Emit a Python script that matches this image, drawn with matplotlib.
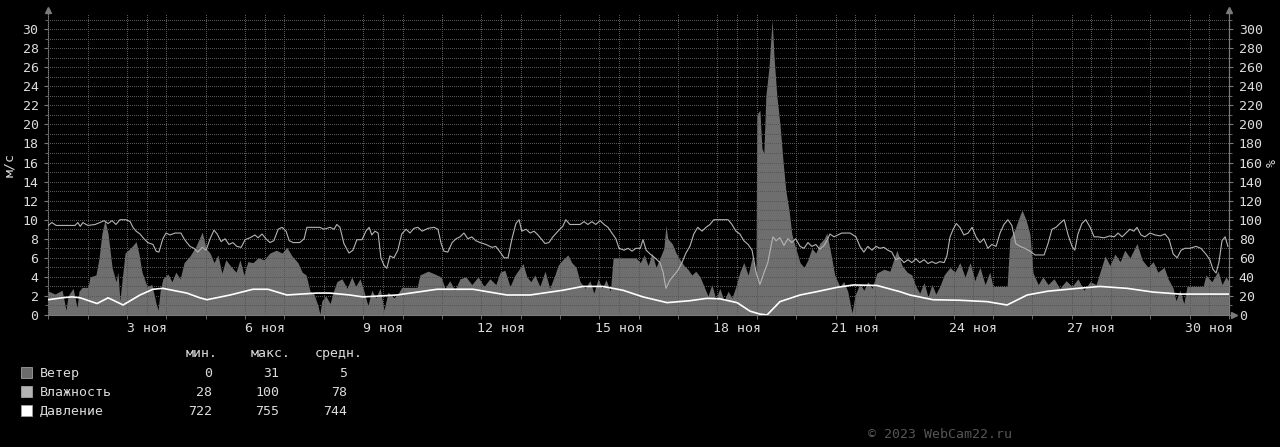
import numpy as np
import matplotlib
matplotlib.use("Agg")
import matplotlib.pyplot as plt
from matplotlib.patches import Rectangle
from matplotlib.ticker import MultipleLocator, FixedLocator, NullFormatter

plt.rcParams['font.family'] = ['DejaVu Sans Mono']

# time axis: days since 1 Nov 00:00
wind_days = [0.00, 0.17, 0.35, 0.45, 0.50, 0.63, 0.73, 0.78, 0.86, 1.01, 1.06, 1.21, 1.29, 1.36, 1.44,
             1.52, 1.62, 1.72, 1.77, 1.82, 1.87, 1.95, 2.08, 2.15, 2.23, 2.30, 2.38, 2.51, 2.63, 2.74,
             2.79, 2.84, 2.91, 3.04, 3.14, 3.24, 3.35, 3.45, 3.60, 3.75, 3.91, 4.01, 4.11, 4.21, 4.31,
             4.41, 4.51, 4.62, 4.77, 4.87, 4.97, 5.07, 5.20, 5.33, 5.48, 5.63, 5.79, 5.94, 6.06, 6.19,
             6.34, 6.45, 6.55, 6.65, 6.75, 6.85, 6.90, 6.95, 7.05, 7.16, 7.23, 7.33, 7.46, 7.59, 7.71,
             7.81, 7.92, 8.02, 8.12, 8.22, 8.32, 8.43, 8.53, 8.63, 8.78, 8.88, 8.98, 9.37, 9.44, 9.65,
             9.82, 9.98, 10.08, 10.20, 10.33, 10.46, 10.61, 10.76, 10.92, 11.07, 11.22, 11.37, 11.48,
             11.60, 11.73, 11.86, 11.96, 12.06, 12.16, 12.26, 12.36, 12.49, 12.62, 12.74, 12.87, 12.95,
             13.07, 13.20, 13.30, 13.41, 13.51, 13.64, 13.76, 13.86, 13.97, 14.07, 14.17, 14.28, 14.35,
             14.78, 14.93, 15.04, 15.14, 15.24, 15.34, 15.44, 15.54, 15.64, 15.69, 15.74, 15.85, 15.95,
             16.05, 16.15, 16.25, 16.35, 16.45, 16.56, 16.66, 16.76, 16.86, 16.96, 17.06, 17.17, 17.27,
             17.37, 17.47, 17.57, 17.67, 17.78, 17.88, 17.98, 18.00, 18.08, 18.13, 18.18, 18.23, 18.31,
             18.39, 18.44, 18.51, 18.59, 18.67, 18.74, 18.82, 18.89, 18.99, 19.10, 19.20, 19.30, 19.40,
             19.50, 19.60, 19.71, 19.78, 19.88, 19.98, 20.11, 20.21, 20.31, 20.42, 20.49, 20.62, 20.72,
             20.82, 20.93, 21.05, 21.23, 21.38, 21.56, 21.69, 21.82, 21.94, 22.04, 22.14, 22.25, 22.35,
             22.45, 22.55, 22.65, 22.76, 22.91, 23.03, 23.16, 23.29, 23.42, 23.54, 23.67, 23.80, 23.92,
             24.00, 24.36, 24.43, 24.56, 24.69, 24.74, 24.84, 24.94, 25.02, 25.15, 25.27, 25.40, 25.55,
             25.70, 25.86, 26.01, 26.16, 26.31, 26.47, 26.62, 26.72, 26.85, 26.97, 27.10, 27.23, 27.35,
             27.48, 27.66, 27.79, 27.94, 28.07, 28.19, 28.35, 28.45, 28.58, 28.65, 28.75, 28.85, 28.93,
             29.34, 29.41, 29.56, 29.72, 29.82, 29.92, 30.00]
wind_ms = [2.5, 2.2, 2.6, 0.5, 2.0, 2.8, 0.8, 2.5, 2.9, 2.9, 4.0, 4.2, 6.0, 8.5, 10.0,
           8.5, 5.0, 3.5, 4.5, 1.5, 3.5, 6.5, 7.0, 7.3, 7.7, 6.5, 4.5, 3.0, 3.2, 1.2,
           0.5, 2.5, 3.8, 4.3, 3.5, 4.5, 3.8, 5.5, 6.2, 7.2, 8.7, 7.0, 6.5, 5.5, 6.3,
           4.4, 5.8, 5.2, 4.5, 5.8, 4.2, 5.6, 5.5, 6.0, 5.8, 6.5, 6.8, 6.5, 7.1, 6.2,
           5.5, 4.5, 4.2, 2.5, 2.2, 1.0, 0.1, 1.5, 2.0, 1.2, 2.3, 3.5, 3.8, 2.8, 4.0,
           3.0, 3.8, 2.5, 1.0, 2.6, 1.8, 2.8, 0.5, 2.4, 1.8, 2.2, 2.9, 2.9, 4.2, 4.6,
           4.3, 4.0, 2.8, 3.6, 2.6, 3.8, 4.0, 3.2, 4.0, 3.0, 3.8, 3.2, 4.5,
           4.7, 3.0, 4.2, 4.8, 5.4, 4.0, 3.5, 4.2, 3.0, 4.6, 2.8, 4.2, 5.2,
           5.8, 6.3, 5.5, 5.0, 3.5, 2.8, 3.6, 2.3, 3.8, 2.8, 3.7, 2.5, 6.0,
           6.0, 6.0, 5.5, 6.3, 5.2, 6.5, 5.0, 6.0, 7.0, 9.4, 8.0, 7.5, 6.5,
           5.8, 5.2, 4.8, 4.2, 4.6, 4.0, 3.0, 2.0, 3.2, 1.6, 2.8, 1.5, 2.5,
           1.8, 3.0, 4.5, 5.5, 4.2, 6.0, 4.5, 21.0, 21.5, 17.5, 17.0, 23.0, 26.0,
           31.0, 27.0, 23.0, 20.0, 16.0, 13.0, 11.0, 8.5, 7.0, 5.5, 5.0, 5.8, 7.0,
           6.5, 7.5, 8.0, 8.6, 6.5, 4.2, 3.0, 3.5, 2.5, 0.2, 2.0, 3.3, 2.6,
           3.5, 2.8, 4.4, 4.8, 4.6, 6.8, 5.2, 4.5, 4.2, 3.0, 2.3, 3.4, 1.9,
           3.2, 2.2, 3.0, 4.2, 5.0, 4.5, 5.5, 4.0, 5.5, 3.6, 5.0, 3.2, 4.5,
           3.0, 3.0, 8.0, 9.0, 10.5, 11.0, 10.0, 8.5, 4.4, 3.2, 4.0, 3.2, 3.8,
           2.8, 3.6, 3.0, 3.8, 2.6, 3.5, 3.2, 4.5, 6.2, 5.2, 6.4, 5.6, 6.8,
           6.0, 7.5, 5.8, 5.0, 5.6, 4.5, 5.0, 3.8, 2.8, 1.5, 2.6, 1.2, 3.0,
           3.0, 4.2, 3.5, 4.6, 3.2, 4.0, 3.5]

hum_days = [0.00, 0.09, 0.20, 0.68, 0.75, 0.81, 0.88, 0.96, 1.01, 1.19, 1.31, 1.42, 1.52, 1.62, 1.72,
            1.82, 1.97, 2.08, 2.15, 2.23, 2.33, 2.43, 2.53, 2.66, 2.74, 2.81, 2.91, 2.99, 3.09, 3.22,
            3.37, 3.45, 3.52, 3.60, 3.70, 3.80, 3.91, 4.01, 4.11, 4.21, 4.29, 4.39, 4.49, 4.59, 4.69,
            4.79, 4.90, 5.00, 5.12, 5.25, 5.33, 5.43, 5.53, 5.63, 5.73, 5.84, 5.94, 6.04, 6.12, 6.22,
            6.39, 6.50, 6.57, 6.90, 7.00, 7.16, 7.26, 7.33, 7.41, 7.51, 7.64, 7.74, 7.84, 7.97, 8.07,
            8.15, 8.22, 8.30, 8.38, 8.45, 8.53, 8.60, 8.68, 8.78, 8.88, 8.98, 9.09, 9.19, 9.29, 9.39,
            9.50, 9.65, 9.80, 9.90, 9.98, 10.05, 10.15, 10.26, 10.36, 10.46, 10.56, 10.66, 10.76, 10.86,
            10.97, 11.12, 11.27, 11.37, 11.48, 11.58, 11.68, 11.78, 11.88, 11.96, 12.03, 12.14, 12.24,
            12.34, 12.44, 12.52, 12.62, 12.72, 12.82, 12.95, 13.07, 13.15, 13.25, 13.51, 13.61, 13.71,
            13.81, 13.91, 14.02, 14.12, 14.22, 14.32, 14.42, 14.50, 14.63, 14.73, 14.83, 14.93, 15.04,
            15.11, 15.19, 15.29, 15.41, 15.54, 15.62, 15.69, 15.80, 15.90, 16.00, 16.10, 16.20, 16.30,
            16.40, 16.50, 16.61, 16.71, 16.81, 16.91, 17.27, 17.37, 17.47, 17.57, 17.67, 17.78, 17.88,
            17.98, 18.08, 18.18, 18.28, 18.36, 18.41, 18.49, 18.59, 18.69, 18.79, 18.89, 18.99, 19.10,
            19.20, 19.30, 19.40, 19.50, 19.60, 19.71, 19.78, 19.86, 19.96, 20.06, 20.16, 20.37, 20.52,
            20.62, 20.72, 20.82, 20.93, 21.03, 21.13, 21.23, 21.33, 21.43, 21.53, 21.63, 21.74, 21.84,
            21.94, 22.04, 22.14, 22.25, 22.35, 22.45, 22.55, 22.65, 22.76, 22.83, 22.91, 22.99, 23.07,
            23.16, 23.26, 23.37, 23.47, 23.57, 23.67, 23.77, 23.87, 23.97, 24.08, 24.18, 24.28, 24.38,
            24.48, 24.58, 24.69, 24.81, 24.94, 25.07, 25.30, 25.40, 25.50, 25.60, 25.70, 25.81, 25.91,
            26.01, 26.08, 26.16, 26.26, 26.36, 26.47, 26.57, 26.67, 26.82, 26.97, 27.08, 27.18, 27.28,
            27.38, 27.48, 27.58, 27.66, 27.76, 27.86, 27.99, 28.12, 28.25, 28.37, 28.47, 28.58, 28.68,
            28.78, 28.88, 29.00, 29.16, 29.28, 29.41, 29.51, 29.59, 29.67, 29.74, 29.82, 29.90, 29.97]
hum_pct = [94, 97, 94, 94, 97, 93, 97, 95, 94, 95, 97, 99, 96, 99, 95,
           100, 100, 98, 92, 88, 85, 80, 76, 74, 67, 66, 80, 86, 84, 86,
           86, 80, 76, 72, 70, 66, 71, 68, 80, 89, 85, 77, 80, 74, 76,
           72, 71, 79, 81, 84, 81, 85, 80, 76, 78, 90, 92, 88, 78, 76,
           76, 80, 92, 92, 90, 92, 90, 95, 92, 75, 65, 68, 79, 79, 88,
           92, 84, 88, 86, 60, 52, 49, 62, 60, 68, 85, 90, 86, 91, 92,
           88, 91, 92, 90, 75, 67, 66, 76, 80, 82, 86, 80, 82, 78,
           76, 74, 71, 72, 66, 60, 60, 80, 96, 100, 88, 90, 86,
           88, 84, 80, 75, 76, 82, 88, 93, 100, 95, 95, 98, 95,
           98, 95, 99, 95, 92, 86, 80, 70, 68, 70, 67, 70, 70,
           79, 68, 64, 60, 55, 45, 28, 37, 42, 47, 55, 65, 72,
           85, 92, 88, 92, 95, 100, 100, 95, 88, 85, 78, 74, 68,
           45, 32, 44, 55, 72, 82, 78, 81, 73, 80, 76, 80, 72,
           70, 76, 72, 74, 69, 73, 78, 85, 82, 84, 86, 86, 82,
           72, 66, 72, 68, 72, 70, 71, 68, 66, 58, 60, 55, 58,
           55, 59, 55, 58, 54, 56, 54, 56, 55, 62, 82, 90, 96,
           92, 84, 86, 92, 82, 76, 80, 70, 74, 72, 86, 95, 100,
           94, 75, 72, 70, 67, 63, 63, 75, 90, 92, 96, 100, 84,
           72, 68, 85, 96, 100, 92, 82, 82, 81, 83, 82, 86, 82,
           86, 90, 88, 92, 84, 82, 86, 84, 83, 85, 80, 64, 60,
           68, 70, 70, 72, 70, 64, 58, 48, 44, 55, 78, 82, 72]

press_days = [0.00, 0.35, 0.60, 0.81, 1.24, 1.52, 1.90, 2.33, 2.66, 2.91, 3.52, 3.85, 4.03, 4.62,
              5.20, 5.58, 6.06, 6.82, 7.16, 7.66, 7.99, 8.86, 9.88, 10.79, 11.65, 12.24, 13.07,
              13.58, 14.09, 14.60, 15.11, 15.72, 16.30, 16.73, 17.06, 17.50, 17.83, 18.08, 18.26,
              18.59, 19.10, 19.53, 20.04, 20.45, 21.05, 21.63, 21.89, 22.48, 23.16, 23.85, 24.36,
              24.87, 25.40, 26.16, 26.72, 27.41, 28.07, 28.75, 30.00]
press_mm = [738.8, 740.9, 741.9, 740.9, 734.6, 740.9, 733.0, 744.0, 750.3, 751.3, 746.1, 740.9, 738.8,
            744.0, 750.3, 750.3, 744.0, 746.1, 746.1, 744.0, 741.9, 744.0, 750.3, 750.3, 744.0, 744.0,
            749.2, 753.4, 753.4, 749.2, 741.9, 735.6, 737.7, 740.3, 739.8, 735.6, 726.2, 723.0, 722.0,
            736.7, 744.0, 747.7, 752.4, 755.0, 754.5, 747.7, 744.0, 738.8, 738.2, 736.7, 733.0, 744.0,
            748.2, 751.3, 753.4, 751.3, 747.2, 745.0, 745.0]

label_days = [2, 5, 8, 11, 14, 17, 20, 23, 26, 29]
label_text = ['3 ноя', '6 ноя', '9 ноя', '12 ноя', '15 ноя', '18 ноя', '21 ноя', '24 ноя', '27 ноя', '30 ноя']

legend_names = ['Ветер', 'Влажность', 'Давление']
legend_colors = ['#6b6b6b', '#b4b4b4', '#ffffff']
legend_min = ['0', '28', '722']
legend_max = ['31', '100', '755']
legend_avg = ['5', '78', '744']

# pressure is drawn on the wind scale: 722 mm -> 0, 755 mm -> 3.15
press_base = 722
press_scale = 3.15 / 33

bg = '#000000'
fg = '#dcdcdc'
axis_col = '#7a7a7a'
grid_col = '#575757'

fig = plt.figure(figsize=(12.8, 4.47), dpi=100, facecolor=bg)
ax = fig.add_axes([48.3 / 1280, 132 / 447, 1180.8 / 1280, 302 / 447], facecolor=bg)

ax.fill_between(wind_days, 0, wind_ms, color='#6e6e6e', lw=0, zorder=1)
ax.plot(hum_days, np.array(hum_pct) / 10.0, color='#b4b4b4', lw=0.8, zorder=3)
ax.plot(press_days, (np.array(press_mm) - press_base) * press_scale, color='white', lw=1.2, zorder=3)

ax.set_xlim(0, 30)
ax.set_ylim(0, 31.69)
ax.set_axisbelow(False)

ax.yaxis.set_major_locator(MultipleLocator(2))
ax.yaxis.set_minor_locator(MultipleLocator(1))
ax.xaxis.set_minor_locator(MultipleLocator(1))
ax.xaxis.set_minor_formatter(NullFormatter())
ax.xaxis.set_major_locator(FixedLocator([d + 0.5 for d in label_days]))
ax.set_xticklabels(label_text)

ax.grid(True, which='both', axis='both', color=grid_col, lw=0.72,
        linestyle=(0, (1, 2)), antialiased=False)
ax.tick_params(axis='x', which='major', length=0, pad=5, colors=fg, labelsize=9.5)
ax.tick_params(axis='x', which='minor', length=3, color=axis_col)
ax.tick_params(axis='y', which='major', length=3, pad=4, color=axis_col, labelcolor=fg, labelsize=9.5)
ax.tick_params(axis='y', which='minor', length=2, color=axis_col)

ax.spines['top'].set_visible(False)
for side in ['left', 'bottom', 'right']:
    ax.spines[side].set_color(axis_col)
    ax.spines[side].set_linewidth(0.8)

ax2 = ax.twinx()
ax2.set_ylim(0, 316.9)
ax2.yaxis.set_major_locator(MultipleLocator(20))
ax2.yaxis.set_minor_locator(MultipleLocator(10))
ax2.tick_params(axis='y', which='major', length=3, pad=4, color=axis_col, labelcolor=fg, labelsize=9.5)
ax2.tick_params(axis='y', which='minor', length=2, color=axis_col)
for side in ['top', 'left', 'bottom']:
    ax2.spines[side].set_visible(False)
ax2.spines['right'].set_color(axis_col)
ax2.spines['right'].set_linewidth(0.8)

# axis arrows
ax.plot([0], [1.01], marker='^', ms=5, color=axis_col, transform=ax.transAxes, clip_on=False)
ax.plot([1], [1.01], marker='^', ms=5, color=axis_col, transform=ax.transAxes, clip_on=False)
ax.plot([1.004], [0], marker='>', ms=5, color=axis_col, transform=ax.transAxes, clip_on=False)

fig.text(10 / 1280, 1 - 165 / 447, 'м/с', rotation=90, color=fg, fontsize=9.5, ha='center', va='center')
fig.text(1272 / 1280, 1 - 163 / 447, '%', rotation=90, color=fg, fontsize=9.5, ha='center', va='center')

# legend table
def fy(y):
    return 1 - y / 447

fig.text(218 / 1280, fy(357), 'мин.', color=fg, fontsize=9.5, ha='right', va='baseline')
fig.text(291 / 1280, fy(357), 'макс.', color=fg, fontsize=9.5, ha='right', va='baseline')
fig.text(363 / 1280, fy(357), 'средн.', color=fg, fontsize=9.5, ha='right', va='baseline')
for i, name in enumerate(legend_names):
    base = 377 + 19 * i
    fig.patches.append(Rectangle((21 / 1280, fy(base + 0.5)), 11 / 1280, 11 / 447,
                                 transform=fig.transFigure, facecolor=legend_colors[i],
                                 edgecolor='#a0a0a0', lw=0.6))
    fig.text(40 / 1280, fy(base), name, color=fg, fontsize=9.5, ha='left', va='baseline')
    fig.text(212 / 1280, fy(base), legend_min[i], color=fg, fontsize=9.5, ha='right', va='baseline')
    fig.text(279 / 1280, fy(base), legend_max[i], color=fg, fontsize=9.5, ha='right', va='baseline')
    fig.text(347 / 1280, fy(base), legend_avg[i], color=fg, fontsize=9.5, ha='right', va='baseline')

fig.text(868 / 1280, fy(438), '© 2023 WebCam22.ru', color='#555555', fontsize=9.5, ha='left', va='baseline')

fig.savefig('out.png', dpi=100, facecolor=bg)
